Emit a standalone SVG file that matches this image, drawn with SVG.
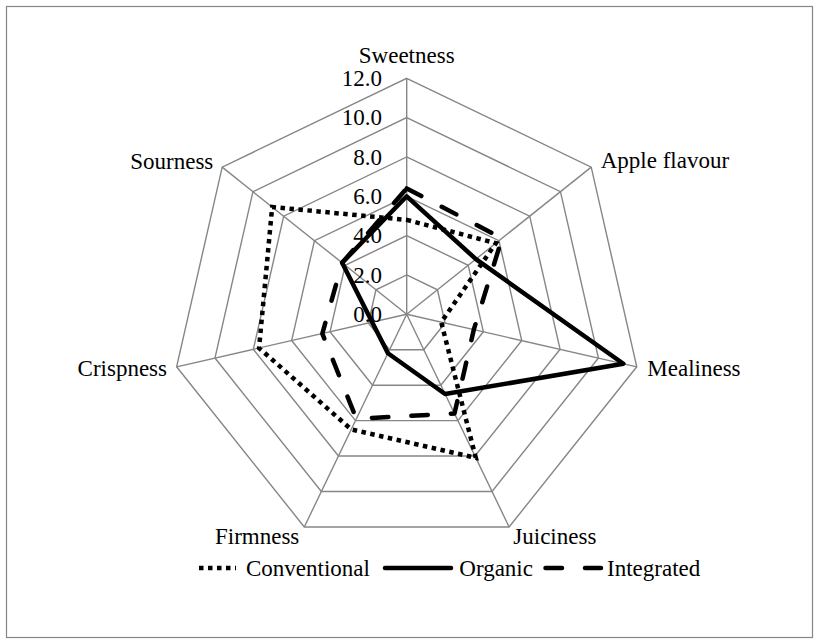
<svg xmlns="http://www.w3.org/2000/svg" width="820" height="644" viewBox="0 0 820 644">
<style>
.grid{fill:none;stroke:#868686;stroke-width:1.4}
.axis{stroke:#868686;stroke-width:1.4}
.lbl{font-family:"Liberation Serif","Times New Roman",serif;font-size:23px;fill:#000}
.tick{font-family:"Liberation Serif","Times New Roman",serif;font-size:23px;fill:#000;text-anchor:end}
.conv{fill:none;stroke:#000;stroke-width:4.5;stroke-dasharray:4.5 4.5;stroke-linejoin:miter}
.org{fill:none;stroke:#000;stroke-width:4.5;stroke-linejoin:round;stroke-linecap:round}
.int{fill:none;stroke:#000;stroke-width:4.5;stroke-dasharray:16.5 23;stroke-linecap:round;stroke-linejoin:round}
</style>
<rect x="0" y="0" width="820" height="644" fill="#fff"/>
<rect x="6.5" y="6.5" width="806" height="631" fill="none" stroke="#868686" stroke-width="1.2"/>
<g id="grid">
<polygon class="grid" points="406.7,274.97 437.45,289.78 445.05,323.05 423.77,349.74 389.63,349.74 368.35,323.05 375.95,289.78"/>
<polygon class="grid" points="406.7,235.63 468.2,265.25 483.39,331.8 440.83,385.18 372.57,385.18 330.01,331.8 345.2,265.25"/>
<polygon class="grid" points="406.7,196.3 498.96,240.73 521.74,340.56 457.9,420.61 355.5,420.61 291.66,340.56 314.44,240.73"/>
<polygon class="grid" points="406.7,156.97 529.71,216.2 560.09,349.31 474.96,456.05 338.44,456.05 253.31,349.31 283.69,216.2"/>
<polygon class="grid" points="406.7,117.63 560.46,191.68 598.44,358.06 492.03,491.49 321.37,491.49 214.96,358.06 252.94,191.68"/>
<polygon class="grid" points="406.7,78.3 591.21,167.16 636.78,366.81 509.1,526.93 304.3,526.93 176.62,366.81 222.19,167.16"/>
<line class="axis" x1="406.7" y1="314.3" x2="406.7" y2="78.3"/>
<line class="axis" x1="406.7" y1="314.3" x2="591.21" y2="167.16"/>
<line class="axis" x1="406.7" y1="314.3" x2="636.78" y2="366.81"/>
<line class="axis" x1="406.7" y1="314.3" x2="509.1" y2="526.93"/>
<line class="axis" x1="406.7" y1="314.3" x2="304.3" y2="526.93"/>
<line class="axis" x1="406.7" y1="314.3" x2="176.62" y2="366.81"/>
<line class="axis" x1="406.7" y1="314.3" x2="222.19" y2="167.16"/>
</g>
<g id="ticks">
<text class="tick" x="382" y="85.8">12.0</text>
<text class="tick" x="382" y="125.1">10.0</text>
<text class="tick" x="382" y="164.5">8.0</text>
<text class="tick" x="382" y="203.8">6.0</text>
<text class="tick" x="382" y="243.1">4.0</text>
<text class="tick" x="382" y="282.5">2.0</text>
<text class="tick" x="382" y="321.8">0.0</text>
</g>
<g id="series">
<polygon id="conventional" class="conv" points="406.7,219.9 495.88,243.18 441.21,322.18 475.82,457.83 351.24,429.47 259.07,348 272.16,207.01"/>
<polygon id="organic" class="org" points="406.7,196.3 475.89,259.12 623.37,363.75 445.1,394.04 387.93,353.28 372.19,322.18 342.12,262.8"/>
<polygon id="integrated" class="int" points="406.7,188.43 502.03,238.28 473.81,329.62 454.48,413.53 356.36,418.84 322.34,333.56 342.12,262.8"/>
</g>
<g id="labels">
<text id="sweetness" class="lbl" x="406.7" y="62.7" text-anchor="middle">Sweetness</text>
<text id="apple" class="lbl" x="600.7" y="168.3">Apple flavour</text>
<text id="mealiness" class="lbl" x="647.3" y="376">Mealiness</text>
<text id="juiciness" class="lbl" x="513.3" y="544.3">Juiciness</text>
<text id="firmness" class="lbl" x="299.3" y="544.3" text-anchor="end">Firmness</text>
<text id="crispness" class="lbl" x="167" y="376" text-anchor="end">Crispness</text>
<text id="sourness" class="lbl" x="213.3" y="169.3" text-anchor="end">Sourness</text>
</g>
<g id="legend">
<line class="conv" x1="199" y1="568" x2="236" y2="568"/>
<text class="lbl" x="246" y="576">Conventional</text>
<line class="org" x1="385" y1="568" x2="451" y2="568" stroke-linecap="round"/>
<text class="lbl" x="459.3" y="576">Organic</text>
<line class="int" x1="545.5" y1="568" x2="601" y2="568"/>
<text class="lbl" x="607" y="576">Integrated</text>
</g>
</svg>
